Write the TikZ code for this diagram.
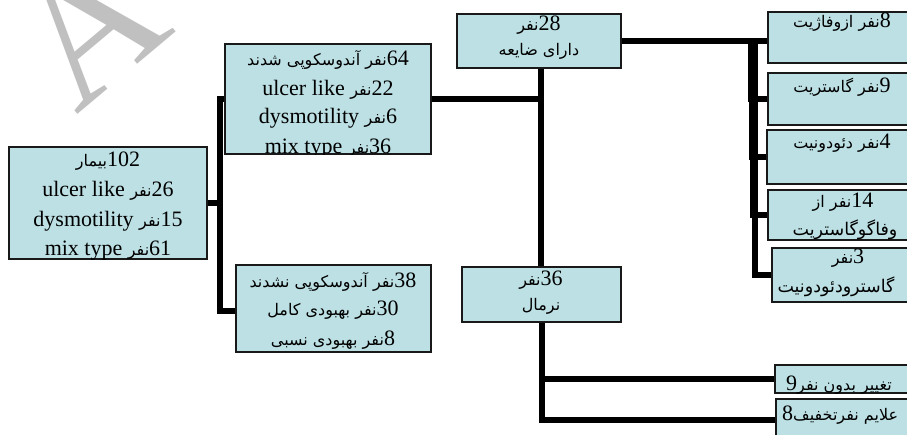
\documentclass[tikz,border=0pt]{standalone}
\usepackage{fontspec}
\setmainfont{Liberation Serif}
\newfontfamily\ar[Script=Arabic]{DejaVu Sans}
\TeXXeTstate=1
\definecolor{boxfill}{RGB}{188,224,228}
\definecolor{boxline}{RGB}{25,25,25}
\definecolor{wm}{RGB}{192,192,192}
\newcommand\fa[1]{{\ar\fontsize{16}{20}\selectfont\beginR #1\endR}}
\newcommand\fas[2]{{\ar\fontsize{#1}{20}\selectfont\beginR #2\endR}}
\begin{document}
\begin{tikzpicture}[x=1pt,y=-1pt,
  box/.style={draw=boxline, line width=1.3pt, fill=boxfill, rectangle, inner sep=0pt},
  txt/.style={anchor=base, inner sep=0pt, font=\fontsize{22}{26}\selectfont},
  txtw/.style={anchor=base west, inner sep=0pt, font=\fontsize{22}{26}\selectfont},
  conn/.style={line width=6pt, black}
]
\useasboundingbox (0,0) rectangle (907,434);

% watermark
\node[font=\fontsize{182}{182}\selectfont, text=wm, rotate=40, anchor=base west, inner sep=0pt] (wmA) at (76,116) {A};

% boxes
\node[box, minimum width=198pt, minimum height=112pt] (root) at (108,203) {};
\node[box, minimum width=206pt, minimum height=110pt] (b64) at (328,99) {};
\node[box, minimum width=195pt, minimum height=87pt] (b38) at (333.5,308.5) {};
\node[box, minimum width=164pt, minimum height=54pt] (b28) at (539,41) {};
\node[box, minimum width=159pt, minimum height=55pt] (b36) at (541.5,294.5) {};
\node[box, minimum width=147pt, minimum height=51pt] (r8) at (841.5,37.5) {};
\node[box, minimum width=147pt, minimum height=52pt] (r9) at (841.5,99) {};
\node[box, minimum width=148pt, minimum height=54pt] (r4) at (841,157) {};
\node[box, minimum width=147pt, minimum height=50pt] (r14) at (841.5,215) {};
\node[box, minimum width=143pt, minimum height=54pt] (r3) at (843.5,275) {};
\node[box, minimum width=140pt, minimum height=28pt] (n9) at (845,379) {};
\node[box, minimum width=139pt, minimum height=41pt] (n8) at (845.5,419.5) {};

% connectors
\coordinate (j1) at (220,203);
\draw[conn] (root.east) -- (j1) |- (b64.west);
\draw[conn] (root.east) -- (j1) |- ([yshift=-2pt]b38.west);
\coordinate (j2) at (541,99);
\draw[conn] (b64.east) -- (j2) -- (j2 |- b28.south);
\draw[conn] (b64.east) -- (j2) -- (j2 |- b36.north);
\draw[conn] (b36.south) |- (n9.west);
\draw[conn] (b36.south) |- (n8.west);
\draw[conn] (b28.east) -- (b28.east -| r8.west);
\draw[conn] (b28.east) -- ++(129.5,0) |- (r9.west);
\draw[conn] (b28.east) -- ++(130.5,0) |- (r4.west);
\draw[conn] (b28.east) -- ++(131.5,0) |- (r14.west);
\draw[conn] (b28.east) -- ++(133.5,0) |- (r3.west);

% texts
\node[txt] (t1a) at (108,166) {\fa{بیمار}102};
\node[txt] (t1b) at (108,196.5) {ulcer like \fa{نفر}26};
\node[txt] (t1c) at (108,226) {dysmotility \fa{نفر}15};
\node[txt] (t1d) at (108,255) {mix type \fa{نفر}61};

\node[txt] (t2a) at (328,65) {\fa{نفر آندوسکوپی شدند}64};
\node[txt] (t2b) at (328,95) {ulcer like \fa{نفر}22};
\node[txt] (t2c) at (328,123.5) {dysmotility \fa{نفر}6};
\begin{scope}
\clip (b64.north west) rectangle (b64.south east);
\node[txt] (t2d) at (328,153) {mix type \fa{نفر}36};
\end{scope}

\node[txt] (t3a) at (333,287) {\fa{نفر آندوسکوپی نشدند}38};
\node[txt] (t3b) at (333,315) {\fa{نفر بهبودی کامل}30};
\node[txt] (t3c) at (333,345) {\fa{نفر بهبودی نسبی}8};

\node[txt] (t4a) at (539,30) {\fa{نفر}28};
\node[txt] (t4b) at (539,55) {\fa{دارای ضایعه}};
\node[txt] (t5a) at (541,285) {\fa{نفر}36};
\node[txt] (t5b) at (541,310) {\fa{نرمال}};

\node[txt] (t6) at (842,27) {\fa{نفر ازوفاژیت}8};
\node[txt] (t7) at (842,92) {\fa{نفر گاستریت}9};
\node[txt] (t8) at (842,148) {\fa{نفر دئودونیت}4};
\node[txt] (t9a) at (843,207) {\fa{نفر از}14};
\node[txt] (t9b) at (845,235) {\fas{17.5}{وفاگوگاستریت}};
\node[txt] (t10a) at (848,263) {\fa{نفر}3};
\node[txt] (t10b) at (836,292) {\fas{17.5}{گاسترودئودونیت}};

\node[txtw] (t11) at (786,390) {9\fa{تغییر بدون نفر}};
\node[txtw] (t12) at (782,420) {8\fa{علایم نفرتخفیف}};
\end{tikzpicture}
\end{document}
